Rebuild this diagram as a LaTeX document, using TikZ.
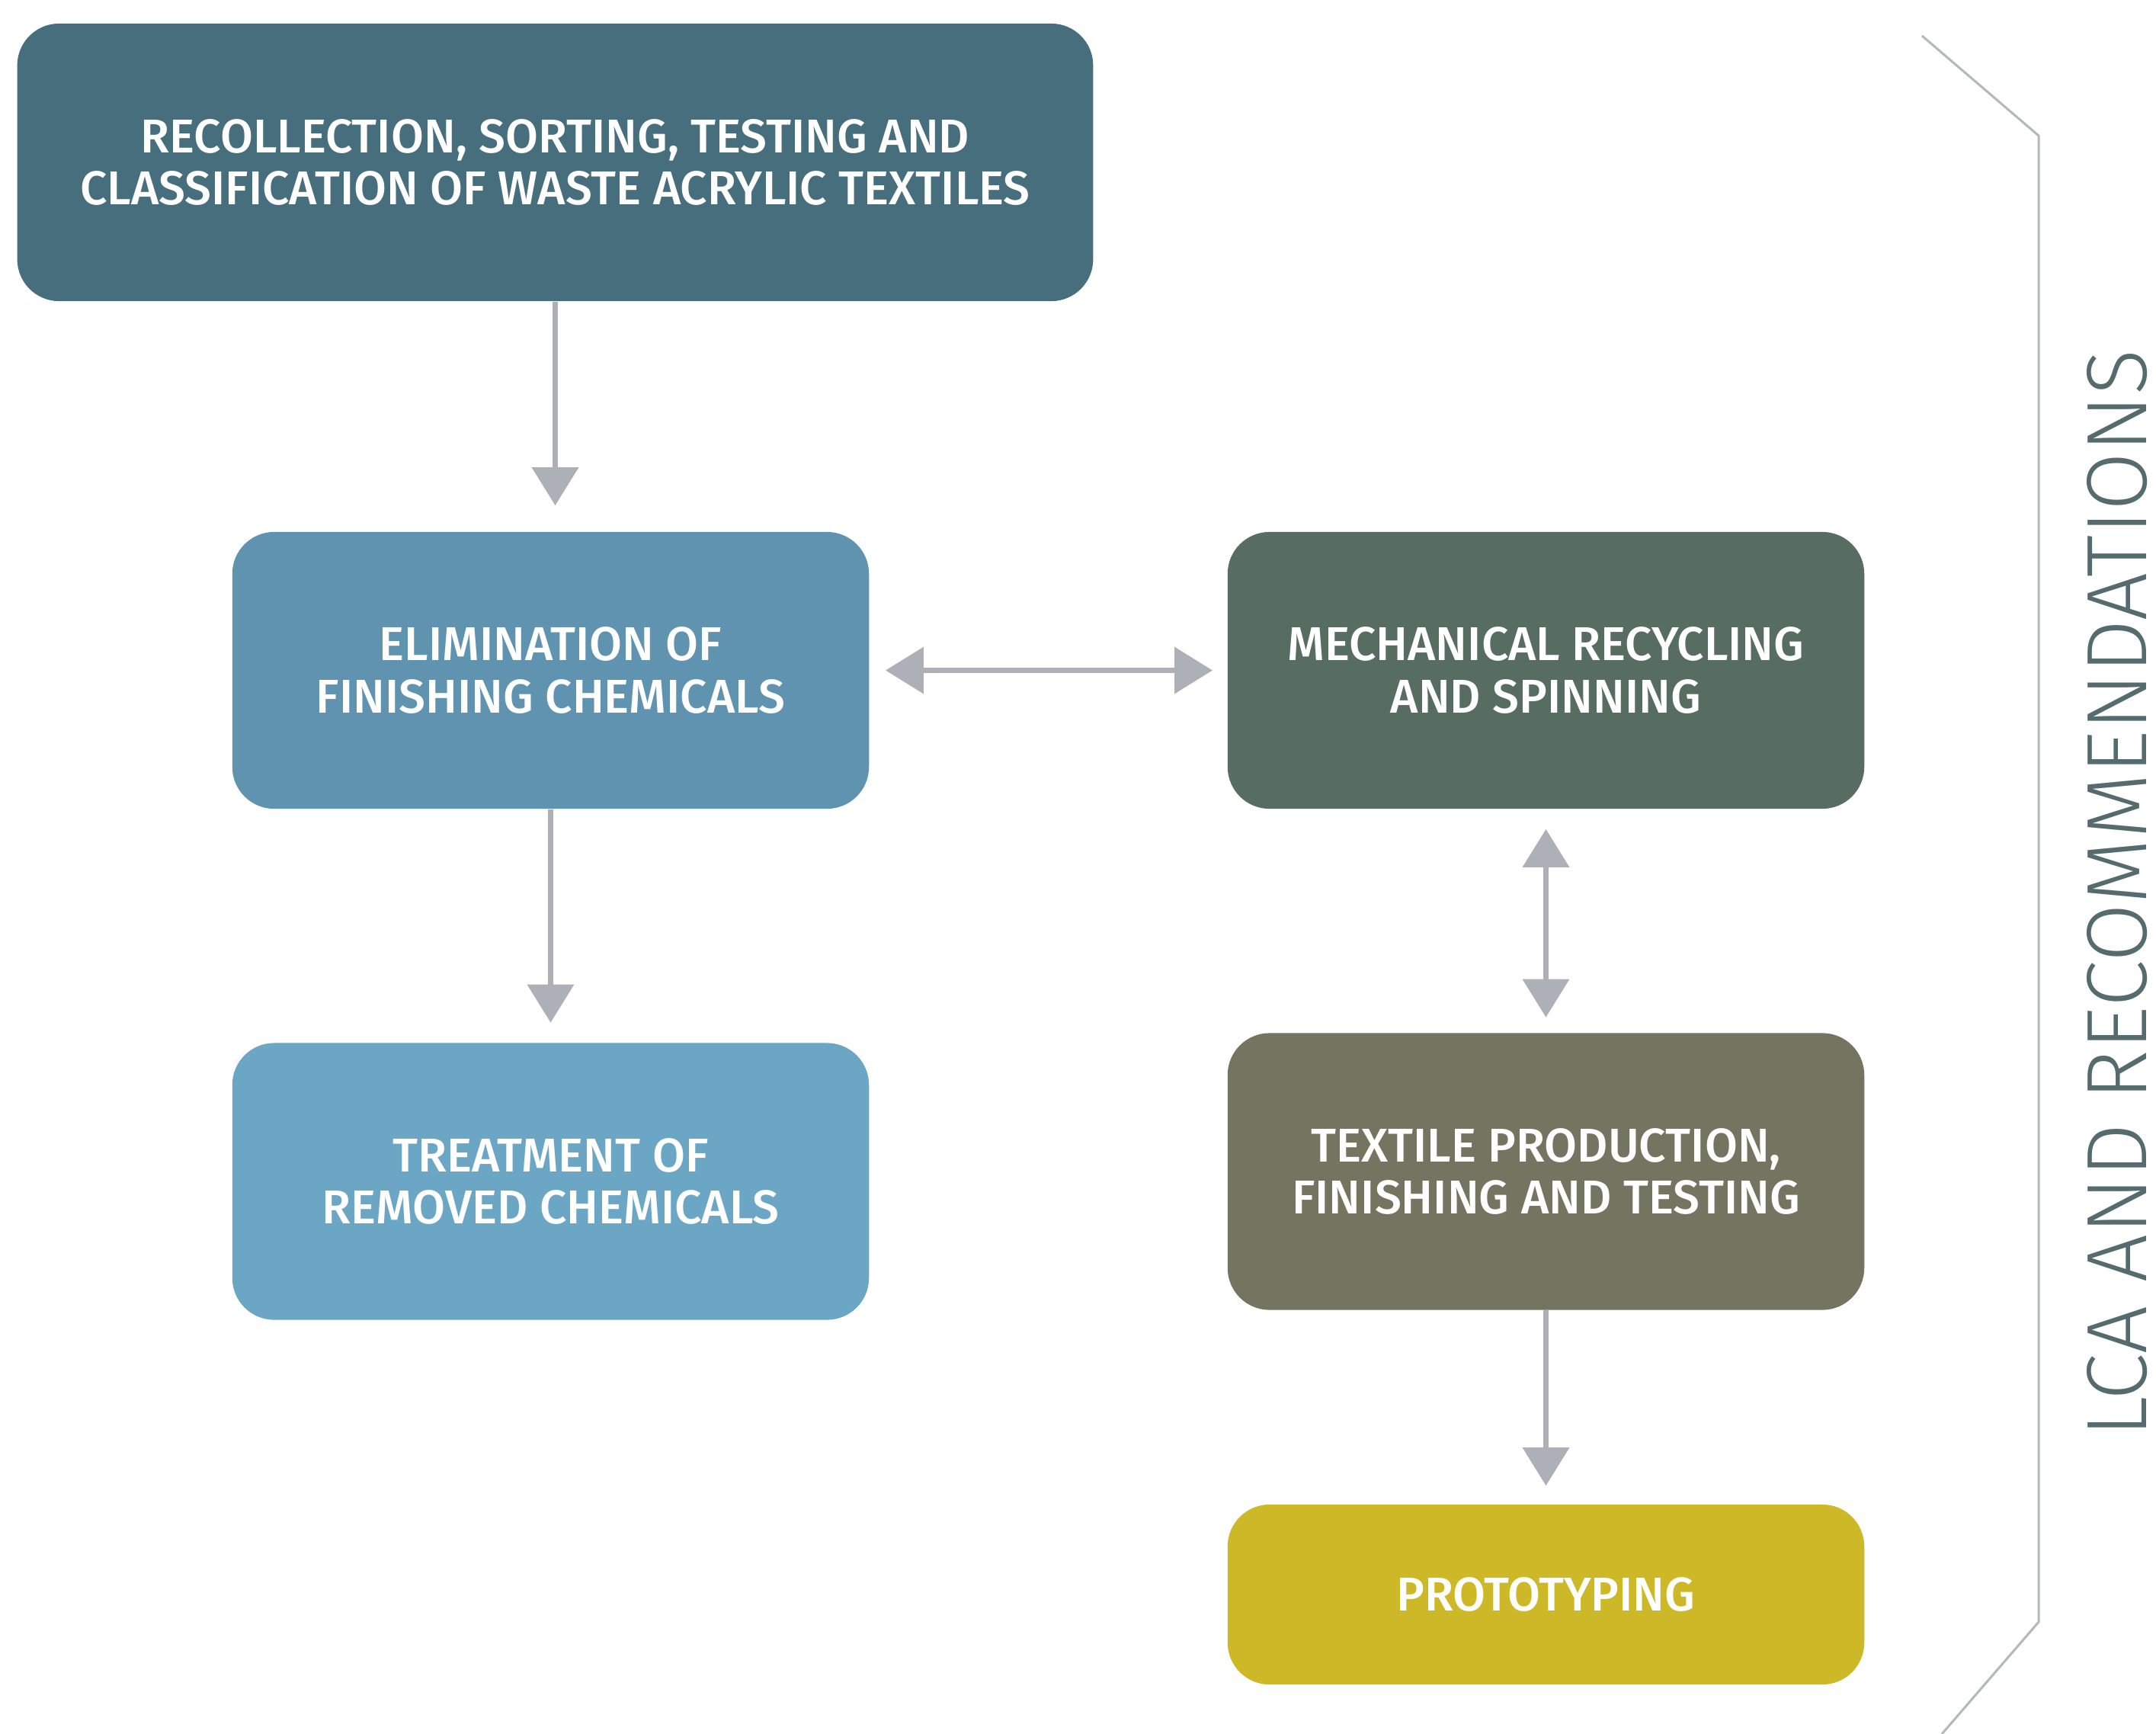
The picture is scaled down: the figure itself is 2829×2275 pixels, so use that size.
\documentclass[tikz,border=0pt]{standalone}
\usepackage{fontspec}
\usepackage{graphicx}
\setmainfont{Fira Sans}
\newfontfamily\boxfont[FakeStretch=1.0]{Fira Sans Medium}
\newfontfamily\lightfont{Fira Sans Light}
\usetikzlibrary{arrows.meta}
\definecolor{ctop}{HTML}{476E7C}
\definecolor{celim}{HTML}{5F93B0}
\definecolor{ctreat}{HTML}{6CA6C5}
\definecolor{cmech}{HTML}{586D61}
\definecolor{ctext}{HTML}{737561}
\definecolor{cproto}{HTML}{CDB927}
\definecolor{carrow}{HTML}{ADB0B7}
\definecolor{cbrack}{HTML}{B4B7BD}
\definecolor{cside}{HTML}{566B6E}
\tikzset{
  stepbox/.style={rectangle, rounded corners=0.55cm, fill=#1, draw=none,
    minimum width=8.35cm, minimum height=3.63cm, align=center, text=white,
    font=\boxfont\fontsize{17.7}{19.6}\selectfont},
  arr/.style={draw=carrow, line width=0.07cm, -{Triangle[length=0.5cm,width=0.6cm]}},
  darr/.style={draw=carrow, line width=0.07cm, {Triangle[length=0.5cm,width=0.6cm]}-{Triangle[length=0.5cm,width=0.6cm]}}
}
\begin{document}
\begin{tikzpicture}[x=0.01cm,y=-0.01cm]
\useasboundingbox (0,0) rectangle (2829,2275);
\node[stepbox=ctop, minimum width=14.11cm, minimum height=3.64cm] (top) at (728.5,213)
  {RECOLLECTION, SORTING, TESTING AND\\CLASSIFICATION OF WASTE ACRYLIC TEXTILES};
\node[stepbox=celim] (elim) at (722.5,879.5) {ELIMINATION OF\\FINISHING CHEMICALS};
\node[stepbox=ctreat] (treat) at (722.5,1550) {TREATMENT OF\\REMOVED CHEMICALS};
\node[stepbox=cmech] (mech) at (2028.5,879.5) {MECHANICAL RECYCLING\\AND SPINNING};
\node[stepbox=ctext] (textile) at (2028.5,1537) {TEXTILE PRODUCTION,\\FINISHING AND TESTING};
\node[stepbox=cproto, minimum height=2.36cm] (proto) at (2028.5,2092) {PROTOTYPING};
\draw[arr, shorten >=0.34cm] (top.south) -- (top.south |- elim.north);
\draw[arr, shorten >=0.26cm] (elim.south) -- (treat.north);
\draw[darr, shorten <=0.21cm, shorten >=0.19cm] (elim.east) -- (mech.west);
\draw[darr, shorten <=0.26cm, shorten >=0.2cm] (mech.south) -- (textile.north);
\draw[arr, shorten >=0.24cm] (textile.south) -- (proto.north);
\coordinate (b1) at (2522,47);
\coordinate (b2) at (2675,178);
\coordinate (b3) at (2675,2128);
\coordinate (b4) at (2548,2275);
\draw[cbrack, line width=0.03cm] (b1) -- (b2) -- (b3) -- (b4);
\node[rotate=90, inner sep=0pt, text=cside] (side) at (2778,1172)
  {\resizebox{14.25cm}{0.78cm}{\lightfont LCA AND RECOMMENDATIONS}};
\end{tikzpicture}
\end{document}
